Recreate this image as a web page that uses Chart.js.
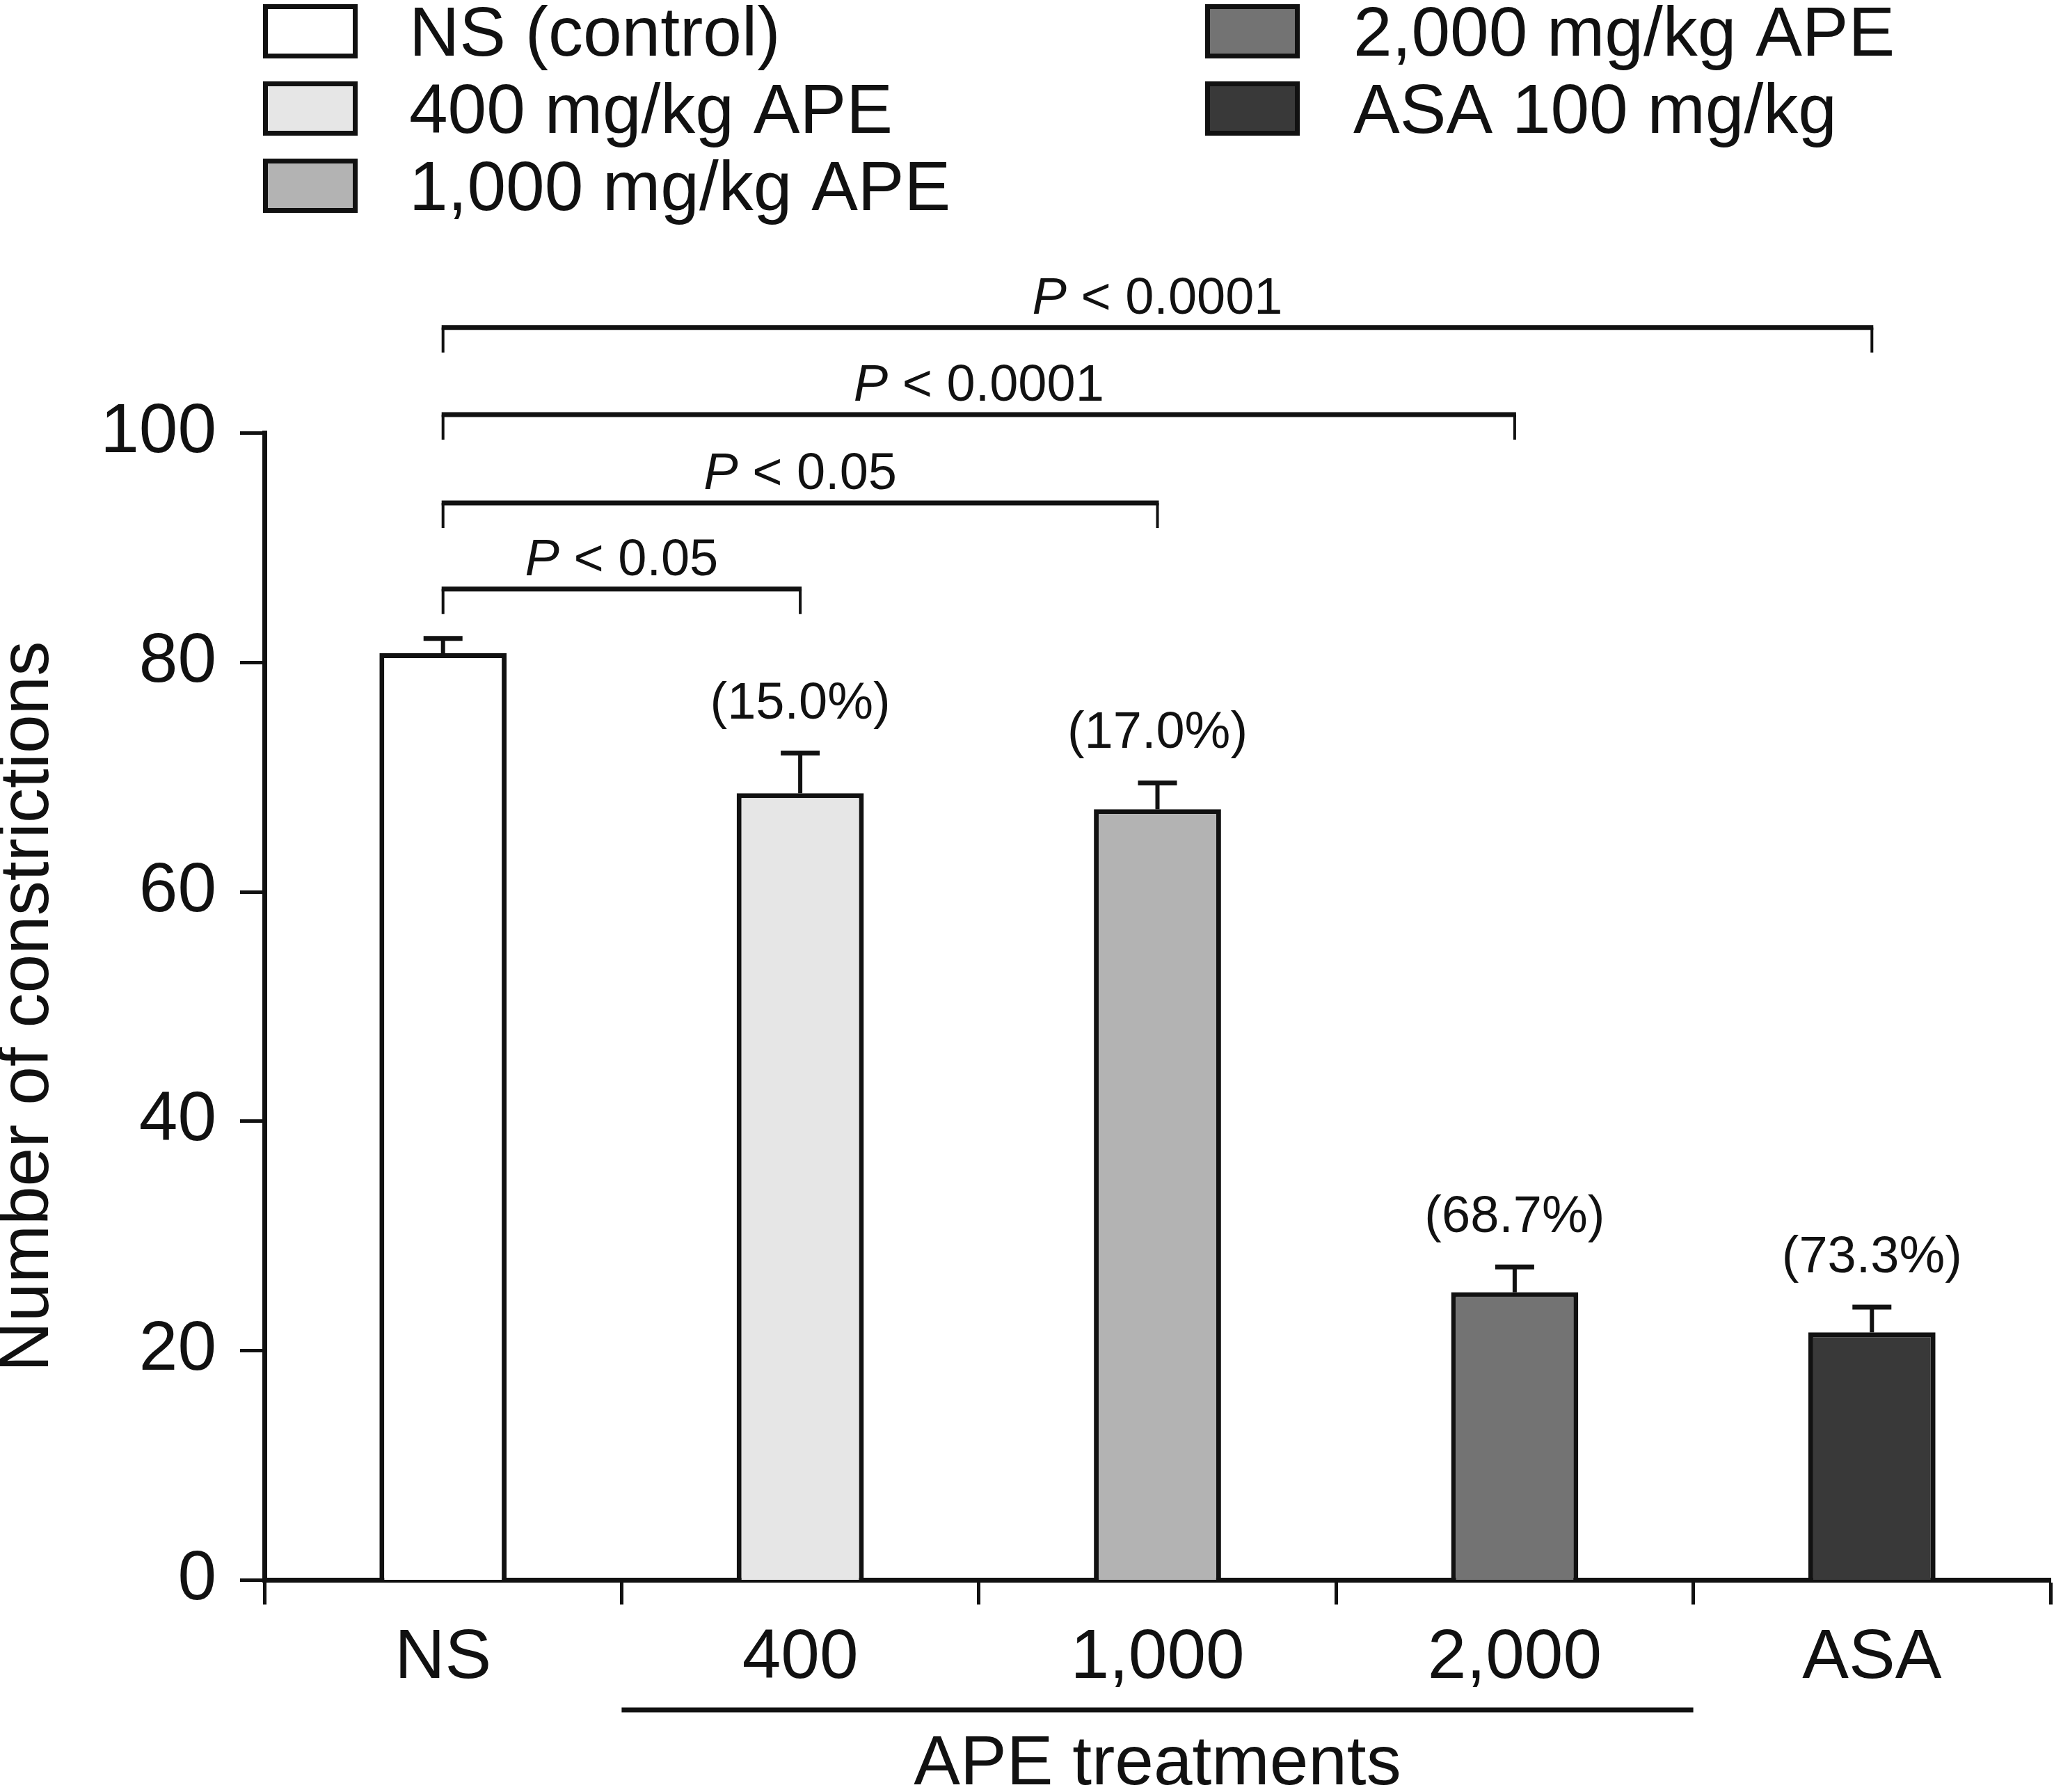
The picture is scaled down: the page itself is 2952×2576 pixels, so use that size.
<!DOCTYPE html>
<html>
<head>
<meta charset="utf-8">
<script src="https://cdn.jsdelivr.net/npm/chart.js@4.4.1/dist/chart.umd.min.js"></script>
<style>
html,body{margin:0;padding:0;background:#ffffff;}
canvas{display:block;}
</style>
</head>
<body>
<canvas id="c" width="2952" height="2576" style="width:2952px;height:2576px"></canvas>
<script>
// ---- data ----
const categories = ['NS', '400', '1,000', '2,000', 'ASA'];
const legendLabels = ['NS (control)', '400 mg/kg APE', '1,000 mg/kg APE', '2,000 mg/kg APE', 'ASA 100 mg/kg'];
const meanValues = [80.8, 68.6, 67.2, 25.1, 21.6];
const errorValues = [1.3, 3.5, 2.3, 2.2, 2.2];
const inhibitionLabels = ['', '(15.0%)', '(17.0%)', '(68.7%)', '(73.3%)'];
const barColors = ['#ffffff', '#e6e6e6', '#b3b3b3', '#737373', '#393939'];
const yTicks = [0, 20, 40, 60, 80, 100];
const bracketFrom = [0, 0, 0, 0];
const bracketTo = [1, 2, 3, 4];
const bracketLevels = [86.4, 93.9, 101.6, 109.2];
const bracketPValues = ['0.05', '0.05', '0.0001', '0.0001'];
const yTitle = 'Number of constrictions';
const xTitle = 'APE treatments';

// ---- style ----
const FONT = "'Liberation Sans', Arial, Helvetica, sans-serif";
const INK = '#111111';

const overlay = {
  id: 'overlay',
  afterDraw(chart) {
    const {ctx, scales: {x, y}} = chart;
    ctx.save();
    ctx.strokeStyle = INK;
    ctx.fillStyle = INK;
    ctx.lineCap = 'butt';

    // error bars + inhibition labels
    meanValues.forEach((v, i) => {
      const cx = x.getPixelForValue(i);
      const yTop = y.getPixelForValue(v);
      const yErr = y.getPixelForValue(v + errorValues[i]);
      ctx.lineWidth = 6;
      ctx.beginPath(); ctx.moveTo(cx, yTop); ctx.lineTo(cx, yErr); ctx.stroke();
      ctx.lineWidth = 7;
      ctx.beginPath(); ctx.moveTo(cx - 28, yErr); ctx.lineTo(cx + 28, yErr); ctx.stroke();
      if (inhibitionLabels[i]) {
        ctx.font = `74px ${FONT}`;
        ctx.textAlign = 'center';
        ctx.textBaseline = 'alphabetic';
        ctx.fillText(inhibitionLabels[i], cx, yErr - 50);
      }
    });

    // significance brackets
    bracketLevels.forEach((lvl, k) => {
      const x1 = x.getPixelForValue(bracketFrom[k]);
      const x2 = x.getPixelForValue(bracketTo[k]);
      const yl = y.getPixelForValue(lvl);
      ctx.lineWidth = 7;
      ctx.beginPath(); ctx.moveTo(x1 - 2, yl); ctx.lineTo(x2 + 2, yl); ctx.stroke();
      ctx.lineWidth = 4;
      ctx.beginPath();
      ctx.moveTo(x1, yl); ctx.lineTo(x1, yl + 36);
      ctx.moveTo(x2, yl); ctx.lineTo(x2, yl + 36);
      ctx.stroke();
      const rest = ' < ' + bracketPValues[k];
      ctx.textAlign = 'left';
      ctx.textBaseline = 'alphabetic';
      ctx.font = `italic 74px ${FONT}`;
      const wP = ctx.measureText('P').width;
      ctx.font = `74px ${FONT}`;
      const wR = ctx.measureText(rest).width;
      const start = (x1 + x2) / 2 - (wP + wR) / 2;
      ctx.font = `italic 74px ${FONT}`;
      ctx.fillText('P', start, yl - 20);
      ctx.font = `74px ${FONT}`;
      ctx.fillText(rest, start + wP, yl - 20);
    });

    // legend (two columns)
    const cols = [{box: 378, text: 588}, {box: 1732, text: 1945}];
    const rowTops = [6, 117, 228];
    legendLabels.forEach((lab, i) => {
      const c = i < 3 ? cols[0] : cols[1];
      const r = i < 3 ? i : i - 3;
      const top = rowTops[r];
      ctx.fillStyle = barColors[i];
      ctx.fillRect(c.box, top, 136, 78);
      ctx.lineWidth = 7;
      ctx.strokeStyle = INK;
      ctx.strokeRect(c.box + 3.5, top + 3.5, 136 - 7, 78 - 7);
      ctx.fillStyle = INK;
      ctx.font = `100px ${FONT}`;
      ctx.textAlign = 'left';
      ctx.textBaseline = 'alphabetic';
      ctx.fillText(lab, c.text, top + 74);
    });

    // APE treatments underline (spans categories 400..2,000)
    const lx1 = x.getPixelForValue(0.5);
    const lx2 = x.getPixelForValue(3.5);
    ctx.lineWidth = 7;
    ctx.beginPath(); ctx.moveTo(lx1, 2458); ctx.lineTo(lx2, 2458); ctx.stroke();
    ctx.restore();
  }
};

new Chart(document.getElementById('c'), {
  type: 'bar',
  data: {
    labels: categories,
    datasets: [{
      data: meanValues,
      backgroundColor: barColors,
      borderColor: INK,
      borderWidth: 7,
      borderSkipped: 'start',
      barPercentage: 0.356,
      categoryPercentage: 1
    }]
  },
  options: {
    responsive: false,
    devicePixelRatio: 1,
    animation: false,
    layout: {padding: {top: 622.5, left: 0, right: 5, bottom: 0}},
    plugins: {legend: {display: false}, tooltip: {enabled: false}},
    scales: {
      x: {
        grid: {offset: true, drawOnChartArea: false, drawTicks: true, tickLength: 35, tickWidth: 5, tickColor: INK, color: INK},
        border: {display: true, color: INK, width: 7},
        ticks: {font: {family: FONT, size: 100}, color: INK, padding: 18, maxRotation: 0, autoSkip: false},
        title: {display: true, text: xTitle, font: {family: FONT, size: 100, lineHeight: 0.78}, color: INK, padding: 0},
        afterFit(s) { s.height = 304.5; }
      },
      y: {
        min: 0, max: 100,
        afterBuildTicks(s) { s.ticks = yTicks.map(v => ({value: v})); },
        ticks: {font: {family: FONT, size: 100}, color: INK, padding: 34},
        grid: {drawOnChartArea: false, drawTicks: true, tickLength: 35, tickWidth: 5, tickColor: INK},
        border: {display: true, color: INK, width: 7},
        title: {display: true, text: yTitle, font: {family: FONT, size: 100, lineHeight: 0.82}, color: INK, padding: 0},
        afterFit(s) { s.width = 380; }
      }
    }
  },
  plugins: [overlay]
});
</script>
</body>
</html>
